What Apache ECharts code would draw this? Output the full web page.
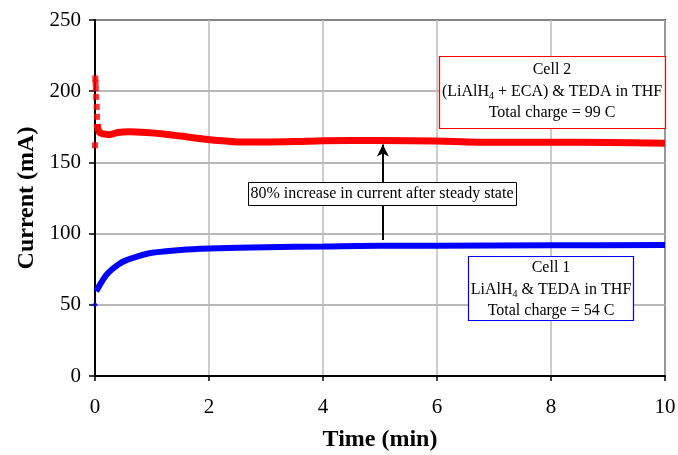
<!DOCTYPE html>
<html>
<head>
<meta charset="utf-8">
<script src="https://cdn.jsdelivr.net/npm/echarts@6/dist/echarts.min.js"></script>
<style>html,body{margin:0;padding:0;background:#fff}#c{width:678px;height:455px}</style>
</head>
<body>
<div id="c"></div>
<script>
// Cell 2 (red) — initial isolated points (markers only)
var cell2StartTime = [0, 0.005, 0.01, 0.015, 0.02, 0.03, 0.035];
var cell2StartCurrent = [162, 209, 206, 202, 196, 189, 182];
// Cell 2 main curve
var cell2Time = [0.04, 0.05, 0.08, 0.15, 0.25, 0.4, 0.6, 0.9, 1.2, 1.5, 1.9, 2.3, 2.6, 3, 3.5, 4, 5, 6, 6.7, 8, 9, 10];
var cell2Current = [177, 174, 171, 170, 169.5, 171, 171.5, 171, 170, 168.5, 166.5, 165, 164.3, 164.3, 164.6, 165.2, 165.4, 165, 164.2, 164.1, 164, 163.4];
// Cell 1 (blue) — initial point
var cell1StartTime = [0];
var cell1StartCurrent = [50];
// Cell 1 main curve
var cell1Time = [0.02, 0.05, 0.1, 0.2, 0.3, 0.4, 0.5, 0.75, 1, 1.5, 2, 3, 4, 5, 6, 8, 10];
var cell1Current = [59.5, 61.5, 65, 71, 75, 78, 80.5, 84, 86.5, 88.5, 89.5, 90.5, 91, 91.5, 91.5, 91.8, 92];
// Arrow annotation (time, from current, to current)
var arrowTime = 5.05, arrowFrom = 95.5, arrowTo = 162.5;
var xTicks = [0, 2, 4, 6, 8, 10];
var yTicks = [0, 50, 100, 150, 200, 250];

function zip(a, b) { return a.map(function (v, i) { return [v, b[i]]; }); }

var serif = 'Liberation Serif, Times New Roman, serif';
var chart = echarts.init(document.getElementById('c'));
chart.setOption({
  animation: false,
  grid: { left: 95, right: 13, top: 20, bottom: 79, outerBoundsMode: 'none', containLabel: false, show: true, borderColor: '#333', borderWidth: 2, backgroundColor: '#fff' },
  xAxis: {
    type: 'value', min: xTicks[0], max: xTicks[xTicks.length - 1], interval: 2,
    name: 'Time (min)', nameLocation: 'middle', nameGap: 52,
    nameTextStyle: { fontFamily: serif, fontSize: 24, fontWeight: 'bold', color: '#000' },
    axisLine: { lineStyle: { color: '#000', width: 2 } },
    axisTick: { show: true, length: 5, lineStyle: { color: '#000', width: 1.5 } },
    axisLabel: { fontFamily: serif, fontSize: 21, color: '#000', margin: 21 },
    splitLine: { show: true, lineStyle: { color: '#bbb', width: 1.5 } }
  },
  yAxis: {
    type: 'value', min: yTicks[0], max: yTicks[yTicks.length - 1], interval: 50,
    name: 'Current (mA)', nameLocation: 'middle', nameGap: 56,
    nameTextStyle: { fontFamily: serif, fontSize: 24, fontWeight: 'bold', color: '#000' },
    axisLine: { show: true, lineStyle: { color: '#000', width: 2 } },
    axisTick: { show: true, length: 6, lineStyle: { color: '#000', width: 1.5 } },
    axisLabel: { fontFamily: serif, fontSize: 21, color: '#000', margin: 14 },
    splitLine: { show: true, lineStyle: { color: '#a0a0a0', width: 1.5 } }
  },
  series: [
    {
      type: 'line', data: zip(cell2Time, cell2Current), smooth: 0.3, showSymbol: false,
      lineStyle: { color: '#ff0000', width: 7 }, z: 3
    },
    {
      type: 'scatter', data: zip(cell2StartTime, cell2StartCurrent), symbol: 'rect', symbolSize: 6,
      itemStyle: { color: '#ff0000' }, z: 3
    },
    {
      type: 'line', data: zip(cell1Time, cell1Current), smooth: 0.3, showSymbol: false,
      lineStyle: { color: '#0000ff', width: 6 }, z: 3,
      markLine: {
        silent: true, symbol: ['none', 'arrow'], symbolSize: [9, 12],
        label: { show: false },
        lineStyle: { color: '#000', width: 2, type: 'solid' },
        data: [[{ coord: [arrowTime, arrowFrom] }, { coord: [arrowTime, arrowTo] }]]
      }
    },
    {
      type: 'scatter', data: zip(cell1StartTime, cell1StartCurrent), symbol: 'diamond', symbolSize: 6,
      itemStyle: { color: '#0000ff' }, z: 3
    }
  ],
  graphic: [
    // Cell 2 box
    { type: 'rect', z: 100, shape: { x: 439.5, y: 56.5, width: 226, height: 72 }, style: { fill: '#fff', stroke: '#ff0000', lineWidth: 1.2 } },
    { type: 'text', z: 101, x: 552, y: 70, style: { text: 'Cell 2', fontFamily: serif, fontSize: 16, fill: '#000', align: 'center', verticalAlign: 'middle' } },
    { type: 'text', z: 101, x: 552, y: 92, style: {
        text: '{a|(LiAlH}{s|4}{a| + ECA) & TEDA in THF}', align: 'center', verticalAlign: 'middle',
        rich: { a: { fontFamily: serif, fontSize: 16, fill: '#000' }, s: { fontFamily: serif, fontSize: 10, fill: '#000', padding: [8, 0, 0, 0] } } } },
    { type: 'text', z: 101, x: 552, y: 113, style: { text: 'Total charge = 99 C', fontFamily: serif, fontSize: 16, fill: '#000', align: 'center', verticalAlign: 'middle' } },
    // Cell 1 box
    { type: 'rect', z: 100, shape: { x: 468.5, y: 256.5, width: 165, height: 64 }, style: { fill: '#fff', stroke: '#0000ff', lineWidth: 1.2 } },
    { type: 'text', z: 101, x: 551, y: 268, style: { text: 'Cell 1', fontFamily: serif, fontSize: 16, fill: '#000', align: 'center', verticalAlign: 'middle' } },
    { type: 'text', z: 101, x: 551, y: 290, style: {
        text: '{a|LiAlH}{s|4}{a| & TEDA in THF}', align: 'center', verticalAlign: 'middle',
        rich: { a: { fontFamily: serif, fontSize: 16, fill: '#000' }, s: { fontFamily: serif, fontSize: 10, fill: '#000', padding: [8, 0, 0, 0] } } } },
    { type: 'text', z: 101, x: 551, y: 311, style: { text: 'Total charge = 54 C', fontFamily: serif, fontSize: 16, fill: '#000', align: 'center', verticalAlign: 'middle' } },
    // Middle annotation box
    { type: 'rect', z: 100, shape: { x: 248.5, y: 182.5, width: 268, height: 23 }, style: { fill: '#fff', stroke: '#000', lineWidth: 1 } },
    { type: 'text', z: 101, x: 382, y: 194, style: { text: '80% increase in current after steady state', fontFamily: serif, fontSize: 16, fill: '#000', align: 'center', verticalAlign: 'middle' } }
  ]
});
</script>
</body>
</html>
